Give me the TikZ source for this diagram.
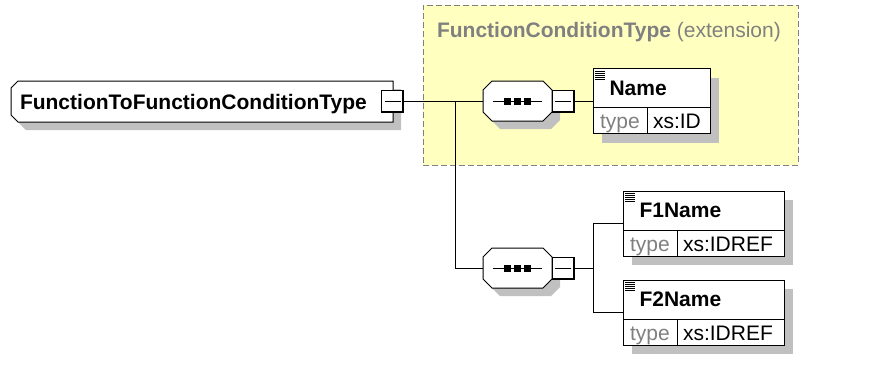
\documentclass[tikz,border=0pt]{standalone}
\usepackage{fontspec}
\setmainfont{Liberation Sans}
\usetikzlibrary{shadows}
\definecolor{extfill}{HTML}{FFFFC0}
\definecolor{shadowgray}{HTML}{C0C0C0}
\definecolor{dimtext}{HTML}{808080}
\tikzset{
    bigfont/.style = {font=\fontsize{21}{25}\selectfont},
    mainelem/.style = {rectangle, minimum width=382pt, minimum height=41pt, text width=364pt,
        text height=15pt, text depth=0pt, inner xsep=9pt, align=left,
        font=\fontsize{21}{25}\selectfont\bfseries},
    seqbox/.style = {rectangle, minimum width=69pt, minimum height=40pt, inner sep=0pt,
        text height=7pt, text depth=0pt},
    plusbox/.style = {rectangle, draw=black, fill=white, minimum size=22pt, inner sep=0pt,
        path picture={
            \draw ([xshift=3pt]path picture bounding box.west) -- ([xshift=-3pt]path picture bounding box.east);
            \draw[line width=3pt] (path picture bounding box.north east) -- (path picture bounding box.south east)
                -- (path picture bounding box.south west);
        }},
    elembox/.style = {rectangle, draw=black, fill=white, minimum height=65pt, inner sep=0pt,
        general shadow={fill=shadowgray, shadow xshift=9pt, shadow yshift=-9pt},
        path picture={
            \draw ([yshift=-39pt]path picture bounding box.north west) -- ([yshift=-39pt]path picture bounding box.north east);
            \draw ([xshift=54pt,yshift=-39pt]path picture bounding box.north west) -- ([xshift=54pt]path picture bounding box.south west);
            \foreach \k in {0,...,4}
                \draw[line width=0.8pt] ([xshift=2pt,yshift={-2.5pt-2pt*\k}]path picture bounding box.north west) -- ++(10pt,0pt);
        }},
    extbox/.style = {rectangle, draw=dimtext, dash pattern=on 6pt off 3pt, fill=extfill, inner sep=0pt},
    elemname/.style = {inner sep=0pt, font=\fontsize{21}{25}\selectfont\bfseries},
    typekey/.style = {inner sep=0pt, text=dimtext, bigfont},
    typeval/.style = {inner sep=0pt, bigfont},
    exttitle/.style = {inner sep=0pt, text=dimtext, bigfont}
}
% octagon outline: half width, half height, left cut, right cut
\newcommand{\octpath}[4]{(-#1+#3,-#2) -- (#1-#4,-#2) -- (#1,-#2+#4) -- (#1,#2-#4)
    -- (#1-#4,#2) -- (-#1+#3,#2) -- (-#1,#2-#3) -- (-#1,-#2+#3) -- cycle}
% shadow + white body at x, y
\newcommand{\octbody}[6]{%
    \fill[shadowgray, shift={(#1+8,#2+8)}] \octpath{#3}{#4}{#5}{#6};
    \filldraw[fill=white, shift={(#1,#2)}] \octpath{#3}{#4}{#5}{#6};
}
% sequence mark: line through three squares
\newcommand{\seqmark}{\rule[3pt]{11pt}{1pt}\rule{7pt}{7pt}\rule[3pt]{3pt}{1pt}\rule{7pt}{7pt}%
    \rule[3pt]{3pt}{1pt}\rule{7pt}{7pt}\rule[3pt]{11pt}{1pt}}
% element box: id, position, width, name, type
\newcommand{\xsdelem}[5]{%
    \node[elembox, minimum width=#3] at #2 (#1) {};
    \node[elemname, anchor=base west] at ([xshift=16.5pt,yshift=-27pt]#1.north west) (#1-name) {#4};
    \node[typekey, anchor=base west] at ([xshift=7pt,yshift=5.5pt]#1.south west) (#1-key) {type};
    \node[typeval, anchor=base west] at ([xshift=60pt,yshift=5.5pt]#1.south west) (#1-val) {#5};
}

\begin{document}
\begin{tikzpicture}[x=1pt,y=-1pt,line width=1pt]
\useasboundingbox (0,0) rectangle (877,384);
% base type extension
\node[extbox, minimum width=375pt, minimum height=160pt] at (610.5,85) (ext) {};
\node[exttitle, anchor=base west] at ([xshift=14pt,yshift=-33pt]ext.north west) (ext-title)
    {\textbf{FunctionConditionType} (extension)};
%
\octbody{202}{101.5}{191}{20.5}{7}{0}
\node[mainelem] at (202,101.5) (top) {FunctionToFunctionConditionType};
\node[plusbox] at (392.5,101) (topplus) {};
%
\octbody{517.5}{101}{34.5}{20}{9}{9}
\node[seqbox] at (517.5,101) (seqa) {\seqmark};
\node[plusbox] at (563,101) (seqaplus) {};
\octbody{517.5}{268}{34.5}{20}{9}{9}
\node[seqbox] at (517.5,268) (seqb) {\seqmark};
\node[plusbox] at (563,268) (seqbplus) {};
%
\xsdelem{name}{(651.5,101)}{117pt}{Name}{xs:ID}
\xsdelem{fone}{(703.5,223.5)}{161pt}{F1Name}{xs:IDREF}
\xsdelem{ftwo}{(703.5,312.5)}{161pt}{F2Name}{xs:IDREF}
%
\coordinate (forka) at (455,101);
\coordinate (forkb) at (593,268);
\draw (topplus.east) -- (seqa.west);
\draw (forka) |- (seqb.west);
\draw (seqaplus.east) -- (name.west);
\draw (seqbplus.east) -- (forkb);
\draw (forkb) |- (fone.west);
\draw (forkb) |- (ftwo.west);
\end{tikzpicture}
\end{document}
